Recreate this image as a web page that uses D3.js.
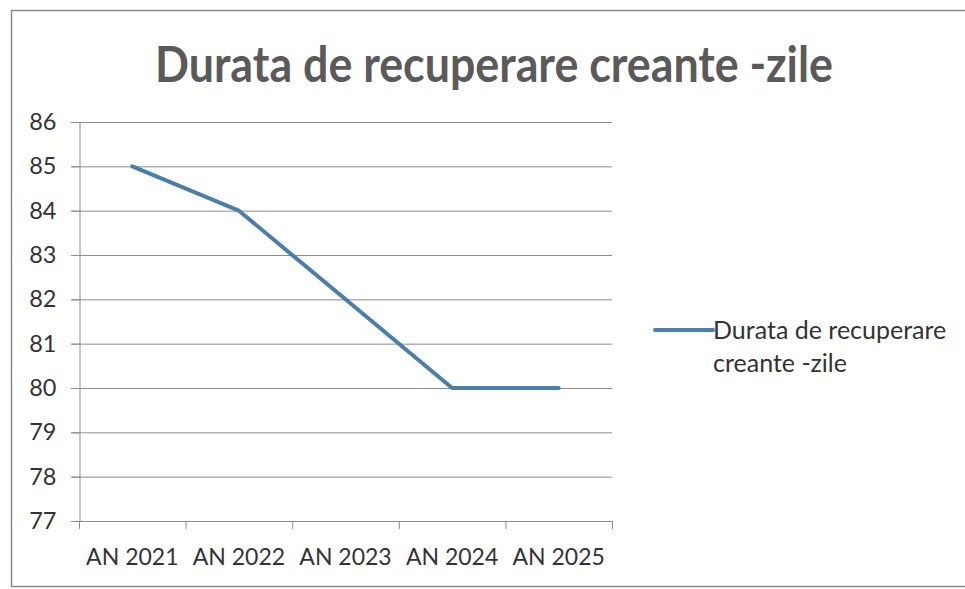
<!DOCTYPE html>
<html><head><meta charset="utf-8">
<script src="https://cdn.jsdelivr.net/npm/d3@7"></script>
<style>body{margin:0;background:#fff;}svg{display:block;}</style>
</head><body>
<script>
const categories = ["AN 2021","AN 2022","AN 2023","AN 2024","AN 2025"];
const values = [85, 84, 82, 80, 80];
const yTicks = [77,78,79,80,81,82,83,84,85,86];
const title = "Durata de recuperare creante -zile";
const legendLines = ["Durata de recuperare","creante -zile"];

const W = 965, H = 589;
const svg = d3.select("body").append("svg").attr("width", W).attr("height", H);
const font = "Lato, 'Open Sans', sans-serif";

// outer chart border
svg.append("rect").attr("x",11.5).attr("y",10.5).attr("width",970).attr("height",576)
  .attr("fill","#fff").attr("stroke","#8a8a8a").attr("stroke-width",1.5);

// title
svg.append("text").attr("x",155).attr("y",82).attr("textLength",678).attr("lengthAdjust","spacingAndGlyphs")
  .attr("font-family",font).attr("font-weight","bold").attr("font-size",50).attr("fill","#5a5a5a").text(title);

const x = d3.scaleBand().domain(categories).range([79,612]).paddingInner(0).paddingOuter(0);
const y = d3.scaleLinear().domain([77,86]).range([521,122]);

// gridlines
svg.append("g").selectAll("line").data(yTicks).join("line")
  .attr("x1",71).attr("x2",612).attr("y1",d=>y(d)+0.5).attr("y2",d=>y(d)+0.5)
  .attr("stroke","#8c8c8c").attr("stroke-width",1);

// y axis
const yAxis = svg.append("g").attr("transform","translate(79.5,0)")
  .call(d3.axisLeft(y).tickValues(yTicks).tickSize(8).tickPadding(15).tickFormat(d3.format("d")));
yAxis.select(".domain").attr("stroke","#8c8c8c");
yAxis.selectAll(".tick line").attr("stroke","#8c8c8c");
yAxis.selectAll("text").attr("font-family",font).attr("font-size",23.5).attr("fill","#333");

// x axis
const xAxis = svg.append("g").attr("transform","translate(0,521.5)")
  .call(d3.axisBottom(x).tickSize(0).tickPadding(27));
xAxis.select(".domain").attr("stroke","#8c8c8c").attr("d","M71,0H612");
xAxis.selectAll("text").attr("font-family",font).attr("font-size",23).attr("fill","#333");
// x tick marks at category boundaries
const bounds = categories.map(c=>x(c)).concat([x.range()[1]]);
svg.append("g").selectAll("line").data(bounds).join("line")
  .attr("x1",d=>d+0.5).attr("x2",d=>d+0.5).attr("y1",521).attr("y2",529)
  .attr("stroke","#8c8c8c");

// data line
const lineGen = d3.line().x((d,i)=>x(categories[i])+x.bandwidth()/2).y(d=>y(d));
svg.append("path").datum(values).attr("d",lineGen).attr("fill","none")
  .attr("stroke","#4a7eab").attr("stroke-width",4).attr("stroke-linejoin","round").attr("stroke-linecap","round");

// legend
svg.append("line").attr("x1",655).attr("x2",713).attr("y1",330).attr("y2",330)
  .attr("stroke","#4a7eab").attr("stroke-width",4).attr("stroke-linecap","round");
svg.append("g").selectAll("text").data(legendLines).join("text")
  .attr("x",713).attr("y",(d,i)=>339+i*33)
  .attr("font-family",font).attr("font-size",25).attr("fill","#333").text(d=>d);
</script>
</body></html>
